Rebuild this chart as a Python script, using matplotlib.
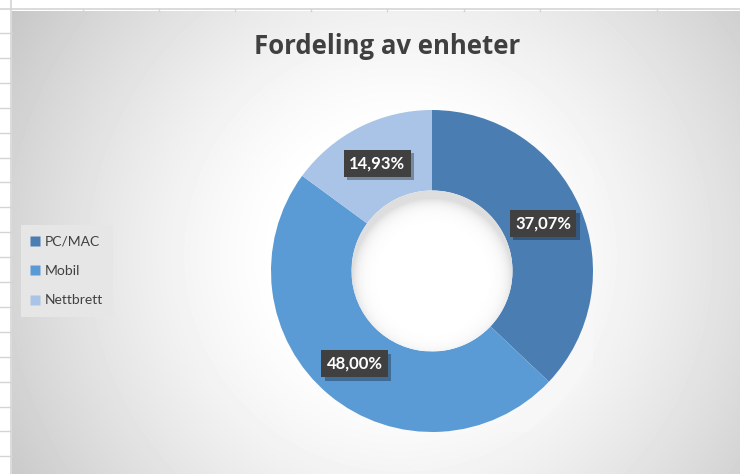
import numpy as np
import matplotlib
matplotlib.use("Agg")
import matplotlib.pyplot as plt
import matplotlib.patheffects as pe

# data
labels = ["PC/MAC", "Mobil", "Nettbrett"]
values = [37.07, 48.00, 14.93]
colors = ["#4a7eb3", "#5b9bd5", "#a9c4e6"]
title = "Fordeling av enheter"

plt.rcParams["font.family"] = ["Lato", "DejaVu Sans"]

W, H = 740, 474
fig = plt.figure(figsize=(W / 100, H / 100), dpi=100)
fig.patch.set_facecolor("white")

# spreadsheet grid behind the chart
grid_c = "#d4d4d4"
for y in np.arange(33, H, 24.9):
    fig.add_artist(plt.Line2D([0, 12 / W], [1 - y / H, 1 - y / H], color=grid_c, lw=1))
fig.add_artist(plt.Line2D([0, 1], [1 - 8.5 / H, 1 - 8.5 / H], color=grid_c, lw=1.2))
fig.add_artist(plt.Line2D([10.5 / W, 10.5 / W], [0, 1], color=grid_c, lw=1.2))
for x in [83, 159, 235, 311, 387, 464, 540, 657]:
    fig.add_artist(plt.Line2D([x / W, x / W], [1 - 11 / H, 1 - 9 / H], color=grid_c, lw=1))

# chart area with radial gradient
x0, y0 = 12, 11
bg = fig.add_axes([x0 / W, 0, 1 - x0 / W, 1 - y0 / H])
bg.set_axis_off()
xx, yy = np.meshgrid(np.arange(x0, W), np.arange(y0, H))
d = np.hypot(xx - 400, yy - 255)
v = 1 - 0.22 * (np.clip(d - 120, 0, None) / 338) ** 1.3
bg.imshow(np.clip(v, 0, 1), cmap="gray", vmin=0, vmax=1, aspect="auto",
          interpolation="bilinear")

# donut
cx, cy, r = 432, 271, 161
ax = fig.add_axes([(cx - r) / W, (H - cy - r) / H, 2 * r / W, 2 * r / H])

# soft white glow around ring
for k in range(10):
    ax.add_patch(plt.Circle((0, 0), 1.0 + 0.02 * k, color="white",
                            alpha=0.12, zorder=0, lw=0))

wedges, texts, autotexts = ax.pie(
    values, colors=colors, startangle=90, counterclock=False, radius=1,
    wedgeprops=dict(width=0.5, edgecolor="none"),
    autopct=lambda p: f"{p:.2f}%".replace(".", ","), pctdistance=0.75)
ax.set_xlim(-1, 1)
ax.set_ylim(-1, 1)
ax.set_axis_off()

# hole with soft inner shadow at the top
hx, hy = np.meshgrid(np.linspace(-0.5, 0.5, 200), np.linspace(-0.5, 0.5, 200))
s = 0.5 - np.hypot(hx, hy + 0.05)
hv = 1 - 0.13 * np.exp(-np.clip(s, 0, None) / 0.04)
hole = ax.imshow(hv, cmap="gray", vmin=0, vmax=1, extent=(-0.5, 0.5, -0.5, 0.5),
                 origin="lower", zorder=3, interpolation="bilinear")
clip = plt.Circle((0, 0), 0.5, transform=ax.transData)
hole.set_clip_path(clip)
ax.set_xlim(-1, 1)
ax.set_ylim(-1, 1)

for t in autotexts:
    t.set_color("white")
    t.set_fontweight("bold")
    t.set_fontsize(12)
    t.set_bbox(dict(boxstyle="square,pad=0.32", facecolor="#404040", edgecolor="none"))
    t.get_bbox_patch().set_path_effects([
        pe.SimplePatchShadow(offset=(2.5, -2.5), shadow_rgbFace="black", alpha=0.3),
        pe.Normal()])
    t.set_zorder(5)

fig.text(387 / W, 1 - 47 / H, title, ha="center", va="center",
         fontsize=18.5, fontweight="bold", color="#404040",
         family=["Open Sans", "DejaVu Sans"])

handles = [plt.Line2D([], [], marker="s", ls="none", markersize=6.5,
                      markerfacecolor=c, markeredgecolor="none") for c in colors]
leg = fig.legend(handles, labels, loc="center", bbox_to_anchor=(67 / W, 1 - 271 / H),
                 frameon=True, fontsize=10, handlelength=0.6, handletextpad=0.4,
                 labelspacing=1.25, borderpad=0.45, labelcolor="#404040")
leg.get_frame().set_facecolor("#e6e6e6")
leg.get_frame().set_edgecolor("none")
leg.get_frame().set_boxstyle("square")
leg.get_frame().set_alpha(1)

fig.savefig("out.png", dpi=100)
